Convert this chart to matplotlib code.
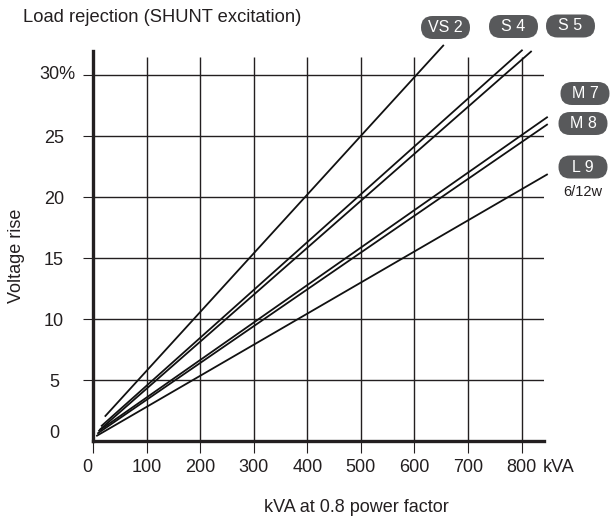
import matplotlib.pyplot as plt
from matplotlib.patches import FancyBboxPatch
from matplotlib.transforms import IdentityTransform

plt.rcParams['font.family'] = ['Liberation Sans', 'DejaVu Sans']

# generator models: start and end points of each line (kVA, % rise)
models = ['VS 2', 'S 4', 'S 5', 'M 7', 'M 8', 'L 9']
kva_start = [22, 15, 12, 10, 8, 6]
rise_start = [2.0, 1.2, 0.9, 0.8, 0.6, 0.4]
kva_end = [655, 802, 819, 849, 849, 849]
rise_end = [32.5, 32.1, 32.0, 26.6, 26.0, 21.9]

x_ticks = [0, 100, 200, 300, 400, 500, 600, 700, 800]
y_ticks = [5, 10, 15, 20, 25]

W, H = 611, 522
ink = '#231f20'

fig = plt.figure(figsize=(W / 100, H / 100), dpi=100)
ax = fig.add_axes([93 / W, (H - 441) / H, 451 / W, 390 / H])
ax.set_xlim(0, 842)
ax.set_ylim(0, 32)

# grid
ax.vlines(x_ticks[1:], 0, 31.5, color=ink, lw=1)
ax.hlines(y_ticks + [30], 0, 842, color=ink, lw=1)

# lines
for xs, ys, xe, ye in zip(kva_start, rise_start, kva_end, rise_end):
    ax.plot([xs, xe], [ys, ye], color='#111111', lw=1.3, clip_on=False,
            solid_capstyle='butt')

for s in ['top', 'right']:
    ax.spines[s].set_visible(False)
for s in ['left', 'bottom']:
    ax.spines[s].set_linewidth(2.4)
    ax.spines[s].set_color(ink)
    ax.spines[s].set_capstyle('projecting')

ax.set_xticks(x_ticks)
ax.set_xticklabels([''] + [str(v) for v in x_ticks[1:]], fontsize=13, color=ink)
ax.set_yticks(y_ticks + [30])
ax.set_yticklabels([str(v) for v in y_ticks] + [''], fontsize=13, color=ink,
                   ha='center')
ax.tick_params(axis='x', direction='out', length=8.6, width=0.8, color=ink, pad=4)
ax.tick_params(axis='y', direction='out', length=7.2, width=0.8, color=ink, pad=21)

# special labels
ax.annotate('0', xy=(0, 0), xytext=(-6, -18), textcoords='offset pixels',
            ha='center', va='top', fontsize=13, color=ink)
ax.annotate('kVA', xy=(800, 0), xytext=(21, -18), textcoords='offset pixels',
            ha='left', va='top', fontsize=13, color=ink)
ax.annotate('0', xy=(0, 0), xytext=(-39, 8), textcoords='offset pixels',
            ha='center', va='center', fontsize=13, color=ink)
ax.annotate('30%', xy=(0, 30), xytext=(-36, 1), textcoords='offset pixels',
            ha='center', va='center', fontsize=13, color=ink)

fig.text(17 / W, 1 - 256 / H, 'Voltage rise', rotation=90, ha='center',
         va='center', fontsize=13, color=ink)
fig.text(356 / W, 1 - 508 / H, 'kVA at 0.8 power factor', ha='center',
         va='center', fontsize=13, color=ink)
fig.text(23 / W, 1 - 18 / H, 'Load rejection (SHUNT excitation)', ha='left',
         va='center', fontsize=13.2, color=ink)

# model badges (pixel centres)
badge_x = [445.5, 513.5, 570.5, 585, 583, 583]
badge_y = [27.5, 26.5, 26, 93.5, 123.5, 167]
bw, bh = 49, 23
for name, bx, by in zip(models, badge_x, badge_y):
    box = FancyBboxPatch((bx - bw / 2, H - by - bh / 2), bw, bh,
                         boxstyle='round,pad=0,rounding_size=11.5',
                         transform=IdentityTransform(), fc='#58595b', ec='none')
    fig.add_artist(box)
    fig.text(bx, H - by, name, transform=IdentityTransform(), ha='center',
             va='center', color='white', fontsize=11.5)

fig.text(583, H - 192, '6/12w', transform=IdentityTransform(), ha='center',
         va='center', color=ink, fontsize=10.5)

fig.savefig('out.png', dpi=100)
